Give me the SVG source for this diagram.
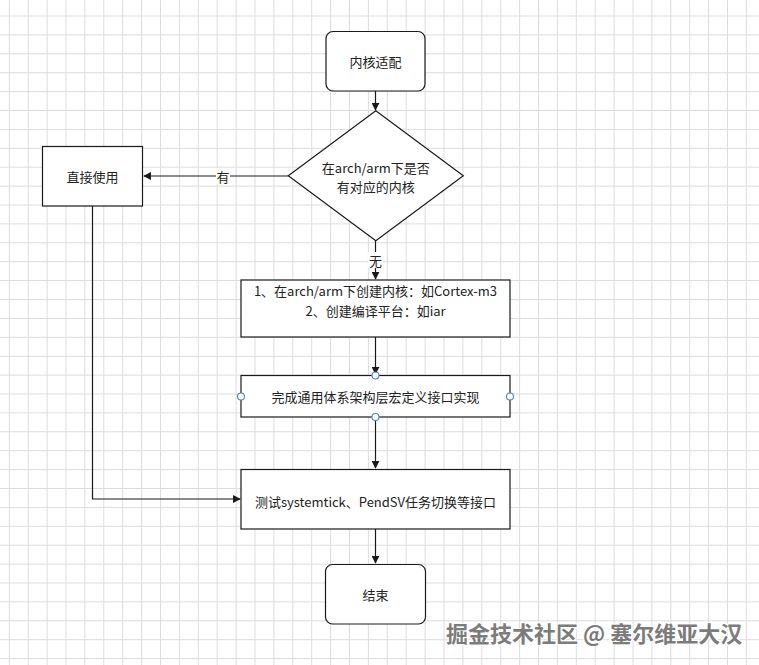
<svg xmlns="http://www.w3.org/2000/svg" width="759" height="665" viewBox="0 0 759 665">
<style>
.box{fill:#fff;stroke:#1a1a1a;stroke-width:1.2}
.t{font-family:"Noto Sans CJK SC","Microsoft YaHei",sans-serif;font-size:13px;fill:#222;text-anchor:middle;dominant-baseline:central}
.c{fill:none;stroke:#1a1a1a;stroke-width:1.2}
.h{fill:#fff;stroke:#4a86c8;stroke-width:1.1}
.wm{font-family:"Noto Sans CJK SC",sans-serif;font-size:22px;font-weight:bold;fill:#6e6e6e;stroke:#fff;stroke-width:2.5;paint-order:stroke;opacity:0.9}
</style>
<defs>
<pattern id="grid" x="8.8" y="15.5" width="18.9" height="18.9" patternUnits="userSpaceOnUse">
<path d="M0 0.5H18.9M0.5 0V18.9" stroke="#dcdcdc" stroke-width="1" fill="none"/>
</pattern>
<marker id="arr" viewBox="0 0 10 10" refX="9" refY="5" markerWidth="8" markerHeight="8" markerUnits="userSpaceOnUse" orient="auto">
<path d="M0 0L10 5L0 10Z" fill="#1a1a1a"/>
</marker>
</defs>
<rect width="759" height="665" fill="#fff"/>
<rect width="759" height="665" fill="url(#grid)"/>

<g id="connectors">
<path class="c" d="M375.5 91V110" marker-end="url(#arr)"/>
<path class="c" d="M288.5 176H144" marker-end="url(#arr)"/>
<path class="c" d="M375.5 241V279" marker-end="url(#arr)"/>
<path class="c" d="M375.5 337V374" marker-end="url(#arr)"/>
<path class="c" d="M375.5 417V468" marker-end="url(#arr)"/>
<path class="c" d="M92.5 206V499H240" marker-end="url(#arr)"/>
<path class="c" d="M375.5 529V563" marker-end="url(#arr)"/>
<rect x="216" y="168" width="14" height="16" fill="#fff"/>
<text class="t" x="223" y="176">有</text>
<rect x="368" y="252" width="15" height="16" fill="#fff"/>
<text class="t" x="375.5" y="260">无</text>
</g>

<g id="start">
<rect class="box" x="326" y="31.5" width="99" height="59.5" rx="7"/>
<text class="t" x="375.5" y="61">内核适配</text>
</g>

<g id="decision">
<path class="box" d="M375.8 110.7L463.3 175.7L375.8 240.7L288.3 175.7Z"/>
<text class="t" x="375.8" y="167.5">在arch/arm下是否</text>
<text class="t" x="375.8" y="186">有对应的内核</text>
</g>

<g id="direct">
<rect class="box" x="42.5" y="146.5" width="100" height="59.5"/>
<text class="t" x="92.5" y="176">直接使用</text>
</g>

<g id="create">
<rect class="box" x="241" y="280" width="269" height="57"/>
<text class="t" x="375.5" y="290.5">1、在arch/arm下创建内核：如Cortex-m3</text>
<text class="t" x="375.5" y="310">2、创建编译平台：如iar</text>
</g>

<g id="implement">
<rect class="box" x="241" y="375.5" width="269" height="41.5"/>
<text class="t" x="375.5" y="396.5">完成通用体系架构层宏定义接口实现</text>
<circle class="h" cx="375.5" cy="375.5" r="3.5"/>
<circle class="h" cx="241" cy="396.5" r="3.5"/>
<circle class="h" cx="510" cy="396.5" r="3.5"/>
<circle class="h" cx="375.5" cy="417" r="3.5"/>
</g>

<g id="test">
<rect class="box" x="241" y="469.5" width="269" height="59.5"/>
<text class="t" x="375.5" y="501">测试systemtick、PendSV任务切换等接口</text>
</g>

<g id="end">
<rect class="box" x="325.5" y="564.5" width="100" height="59.5" rx="7"/>
<text class="t" x="375.5" y="594">结束</text>
</g>

<text class="wm" x="446" y="642">掘金技术社区 @ 塞尔维亚大汉</text>
</svg>
